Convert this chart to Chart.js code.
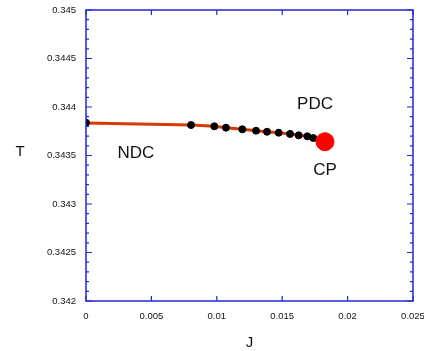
<!DOCTYPE html>
<html>
<head>
<meta charset="utf-8">
<script src="https://cdn.jsdelivr.net/npm/chart.js@4/dist/chart.umd.min.js"></script>
<style>
  html, body { margin: 0; padding: 0; background: #fff; }
  #chart { display: block; }
</style>
</head>
<body>
<canvas id="chart" width="424" height="351"></canvas>
<script>
// NDC branch: T(J) curve
const lineJ = [0, 0.005, 0.00803, 0.00981, 0.0107, 0.01195, 0.0130, 0.01384, 0.01473, 0.0156, 0.01626, 0.01692, 0.01738, 0.01827];
const lineT = [0.343835, 0.343822, 0.343814, 0.343801, 0.343787, 0.343770, 0.343756, 0.343745, 0.343735, 0.343722, 0.343708, 0.343698, 0.343680, 0.343642];

// computed points along the branch
const dotJ = [0, 0.00803, 0.00981, 0.0107, 0.01195, 0.0130, 0.01384, 0.01473, 0.0156, 0.01626, 0.01692, 0.01738];
const dotT = [0.343838, 0.343814, 0.343801, 0.343787, 0.343770, 0.343756, 0.343745, 0.343735, 0.343722, 0.343708, 0.343698, 0.343680];

// critical point
const cpJ = [0.01827];
const cpT = [0.343642];

const xTicks = [0, 0.005, 0.01, 0.015, 0.02, 0.025];
const yTicks = [0.342, 0.3425, 0.343, 0.3435, 0.344, 0.3445, 0.345];
const yMinorStep = 0.0001;

const regionLabels = [
  { text: 'NDC', j: 0.00382, t: 0.343526 },
  { text: 'PDC', j: 0.01751, t: 0.344031 },
  { text: 'CP',  j: 0.01827, t: 0.34335 }
];

const toXY = (xs, ys) => xs.map((x, i) => ({ x: x, y: ys[i] }));
const fmt = v => String(Number(v.toFixed(5)));

const AXIS = '#2626d6';
const FONT = '"Liberation Sans", Arial, sans-serif';

// frame with inward ticks on all four sides, titles and region labels
const framePlugin = {
  id: 'frame',
  afterDraw(chart) {
    const { ctx, chartArea: a, scales } = chart;
    const xs = scales.x, ys = scales.y;
    ctx.save();
    ctx.strokeStyle = AXIS;
    ctx.lineWidth = 1.5;
    ctx.strokeRect(a.left, a.top, a.right - a.left, a.bottom - a.top);
    ctx.lineWidth = 1.2;
    ctx.beginPath();
    xTicks.forEach(v => {
      const px = xs.getPixelForValue(v);
      ctx.moveTo(px, a.bottom); ctx.lineTo(px, a.bottom - 5);
      ctx.moveTo(px, a.top); ctx.lineTo(px, a.top + 5);
    });
    const n = Math.round((ys.max - ys.min) / yMinorStep);
    for (let i = 0; i <= n; i++) {
      const v = ys.min + i * yMinorStep;
      const py = ys.getPixelForValue(v);
      const len = i % 5 === 0 ? 6 : 3;
      ctx.moveTo(a.left, py); ctx.lineTo(a.left + len, py);
      ctx.moveTo(a.right, py); ctx.lineTo(a.right - len, py);
    }
    ctx.stroke();

    ctx.fillStyle = '#111';
    ctx.textAlign = 'center';
    ctx.textBaseline = 'middle';
    ctx.font = '15px ' + FONT;
    ctx.fillText('T', 20, ys.getPixelForValue(0.3435) - 4);
    ctx.fillText('J', (a.left + a.right) / 2, 343);

    ctx.font = '17px ' + FONT;
    regionLabels.forEach(l => {
      ctx.fillText(l.text, xs.getPixelForValue(l.j), ys.getPixelForValue(l.t));
    });
    ctx.restore();
  }
};

new Chart(document.getElementById('chart'), {
  type: 'scatter',
  data: {
    datasets: [
      {
        label: 'CP',
        data: toXY(cpJ, cpT),
        backgroundColor: '#ff0000',
        borderColor: '#ff0000',
        pointRadius: 9,
        order: 0
      },
      {
        label: 'points',
        data: toXY(dotJ, dotT),
        backgroundColor: '#000',
        borderColor: '#000',
        pointRadius: 3.5,
        order: 1
      },
      {
        label: 'NDC',
        data: toXY(lineJ, lineT),
        showLine: true,
        borderColor: '#d83b00',
        borderWidth: 3,
        pointRadius: 0,
        order: 2
      }
    ]
  },
  options: {
    responsive: false,
    animation: false,
    devicePixelRatio: 1,
    layout: { padding: 0 },
    plugins: { legend: { display: false }, tooltip: { enabled: false } },
    scales: {
      x: {
        type: 'linear',
        min: 0, max: 0.025,
        afterBuildTicks: s => { s.ticks = xTicks.map(v => ({ value: v })); },
        afterFit: s => { s.height = 50; s.paddingLeft = 0; s.paddingRight = 0; },
        grid: { display: false },
        border: { display: false },
        ticks: {
          padding: 2,
          color: '#111',
          font: { family: FONT, size: 9.5 },
          maxRotation: 0,
          callback: v => fmt(v)
        }
      },
      y: {
        type: 'linear',
        min: 0.342, max: 0.345,
        afterBuildTicks: s => { s.ticks = yTicks.map(v => ({ value: v })); },
        afterFit: s => { s.width = 86; s.paddingTop = 0; s.paddingBottom = 0; },
        grid: { display: false },
        border: { display: false },
        ticks: {
          padding: 2,
          color: '#111',
          font: { family: FONT, size: 9.5 },
          callback: v => fmt(v)
        }
      },
      x2: {
        type: 'linear', position: 'top', min: 0, max: 0.025,
        afterFit: s => { s.height = 10; s.paddingLeft = 0; s.paddingRight = 0; },
        grid: { display: false }, border: { display: false },
        ticks: { display: false }
      },
      y2: {
        type: 'linear', position: 'right', min: 0.342, max: 0.345,
        afterFit: s => { s.width = 11; s.paddingTop = 0; s.paddingBottom = 0; },
        grid: { display: false }, border: { display: false },
        ticks: { display: false }
      }
    }
  },
  plugins: [framePlugin]
});
</script>
</body>
</html>
